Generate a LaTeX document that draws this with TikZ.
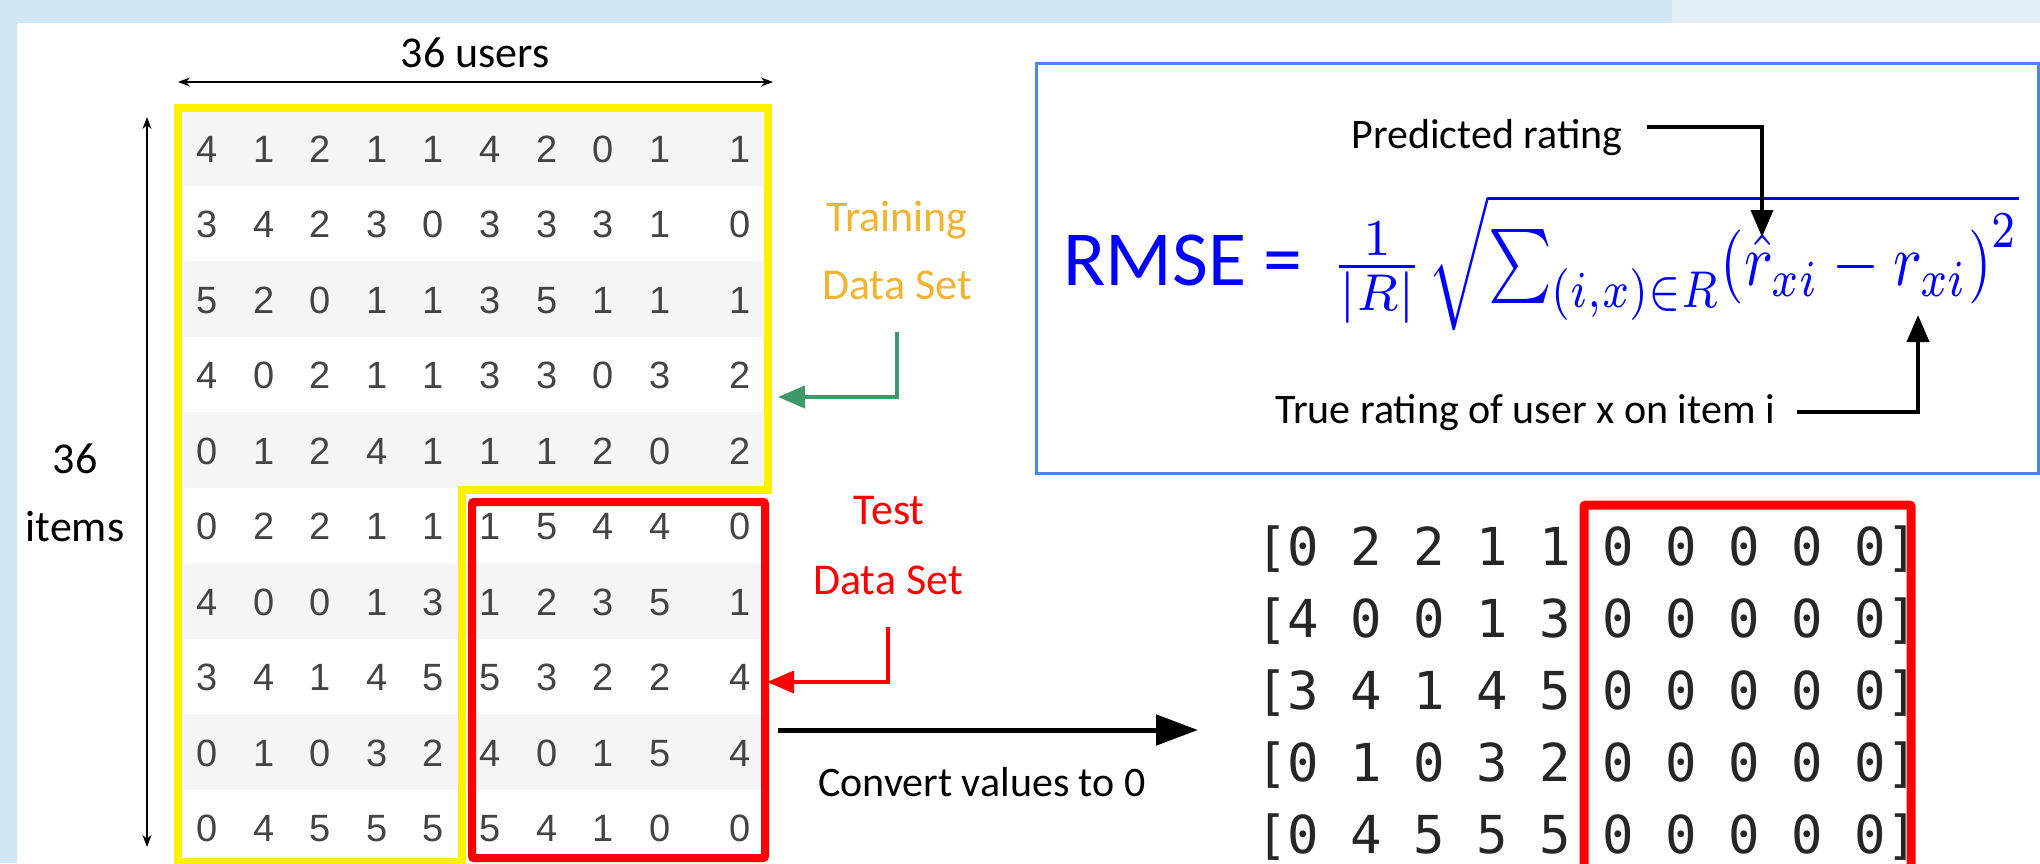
\documentclass[tikz,border=0pt]{standalone}
\usepackage{fontspec}
\setmainfont{Carlito}
\setmonofont{DejaVu Sans Mono}[Numbers=SlashedZero]
\newfontfamily\cellfont{Liberation Sans}
\usetikzlibrary{positioning}
\usetikzlibrary{arrows.meta}

\definecolor{bgblue}{RGB}{210,229,243}
\definecolor{bgpale}{RGB}{226,238,248}
\definecolor{rowgray}{RGB}{245,245,245}
\definecolor{cellgray}{RGB}{68,68,68}
\definecolor{trainorange}{RGB}{240,180,50}
\definecolor{arrowgreen}{RGB}{60,154,106}
\definecolor{boxblue}{RGB}{74,134,232}
\definecolor{mathblue}{RGB}{0,0,255}

\begin{document}
\begin{tikzpicture}[x=1pt, y=-1pt,
    txt/.style={inner sep=0pt, anchor=base, font=\fontsize{44}{50}\selectfont},
    cell/.style={inner sep=0pt, anchor=base, text=cellgray, font=\cellfont\fontsize{38}{44}\selectfont},
    monorow/.style={inner sep=0pt, anchor=base, text=black!85, font=\ttfamily\fontsize{52.3}{60}\selectfont},
    dimarrow/.style={line width=1.5pt, {Stealth[length=12pt,width=9pt]}-{Stealth[length=12pt,width=9pt]}},
    notearrow/.style={line width=4pt, -{Triangle[length=27pt,width=22pt]}},
    bigarrow/.style={line width=5pt, -{Triangle[length=42pt,width=30pt]}}
]
    \useasboundingbox (0,0) rectangle (2040,863);
    % background
    \fill[bgblue] (0,0) rectangle (2040,863);
    \fill[bgpale] (1672,0) rectangle (2040,23);
    \fill[white] (17,23) rectangle (2040,863);

    % rating table
    \foreach \vals [count=\i] in {{4,1,2,1,1,4,2,0,1,1}, {3,4,2,3,0,3,3,3,1,0},
        {5,2,0,1,1,3,5,1,1,1}, {4,0,2,1,1,3,3,0,3,2}, {0,1,2,4,1,1,1,2,0,2},
        {0,2,2,1,1,1,5,4,4,0}, {4,0,0,1,3,1,2,3,5,1}, {3,4,1,4,5,5,3,2,2,4},
        {0,1,0,3,2,4,0,1,5,4}, {0,4,5,5,5,5,4,1,0,0}} {
        \pgfmathsetmacro{\ry}{148+75.5*(\i-1)}
        \ifodd\i \fill[rowgray] (184,\ry-37.7) rectangle (763,\ry+37.7); \fi
        \foreach \v [count=\j] in \vals {
            \pgfmathsetmacro{\cx}{\j<10 ? 207+56.6*(\j-1) : 740}
            \node[cell] (c\i-\j) at (\cx,\ry+14) {\v};
        }
    }
    \draw[yellow, line width=8pt] (178,108) -- (768,108) -- (768,490) -- (462,490)
        -- (462,862) -- (178,862) -- cycle;
    \draw[red, line width=8pt, rounded corners=2pt] (472,502) rectangle (765,858);

    % sizes
    \node[txt] (users) at (475,67) {36 users};
    \node[txt] (num) at (75,473) {36};
    \node[txt] (items) at (75,541) {items};
    \coordinate (uleft) at (178,82);
    \coordinate (uright) at (773,82);
    \coordinate (itop) at (147,117);
    \coordinate (ibot) at (147,847);
    \draw[dimarrow] (uleft) -- (uright);
    \draw[dimarrow] (itop) -- (ibot);

    % data set labels
    \node[txt, text=trainorange] (train) at (897,231) {Training};
    \node[txt, text=trainorange] (trainset) at (897,299) {Data Set};
    \node[txt, text=red] (test) at (889,524) {Test};
    \node[txt, text=red] (testset) at (888,594) {Data Set};
    \coordinate (trainhit) at (778,397);
    \coordinate (testhit) at (767,682);
    \draw[notearrow, arrowgreen] ([yshift=-33pt]trainset.base) |- (trainhit);
    \draw[notearrow, red] ([yshift=-33pt]testset.base) |- (testhit);

    % conversion
    \coordinate (convfrom) at (778,730);
    \coordinate (convto) at (1198,730);
    \draw[bigarrow] (convfrom) -- (convto);
    \node[txt, font=\fontsize{42}{48}\selectfont] (convert) at (982,796) {Convert values to 0};

    % test matrix
    \foreach \digits [count=\i] in {{0 2 2 1 1}, {4 0 0 1 3}, {3 4 1 4 5}, {0 1 0 3 2}, {0 4 5 5 5}} {
        \node[monorow] (m\i) at (1587,{565+72*(\i-1)}) {[\digits{} 0 0 0 0 0]};
    }
    \draw[red, line width=9pt, rounded corners=2pt] (1584,505) rectangle (1911,880);

    % rmse box
    \draw[boxblue, line width=3pt] (1036,63) rectangle (2038,473);
    \node[inner sep=0pt, anchor=base west, text=mathblue, font=\fontsize{78}{90}\selectfont]
        (rmse) at (1063,285) {RMSE =};
    \node[inner sep=0pt, right=28pt of rmse.base east, anchor=base west, text=mathblue,
        font=\fontsize{10}{12}\selectfont] (formula)
        {\scalebox{7}[7.4]{$\frac{1}{|R|}$}\hspace{4pt}%
         \scalebox{6.05}[7.4]{$\sqrt{\sum_{(i,x)\in R}\!\left(\hat{r}_{xi}-r_{xi}\right)^{2}}$}};
    \node[txt, font=\fontsize{42}{48}\selectfont] (pred) at (1487,148) {Predicted rating};
    \node[txt, font=\fontsize{42}{48}\selectfont] (truer) at (1525,423) {True rating of user x on item i};
    \coordinate (hatpt) at (1762,237);
    \coordinate (rpt) at (1918,315);
    \draw[notearrow] ([xshift=24pt,yshift=10pt]pred.east) -| (hatpt);
    \draw[notearrow] ([xshift=22pt]truer.east) -| (rpt);
\end{tikzpicture}
\end{document}
